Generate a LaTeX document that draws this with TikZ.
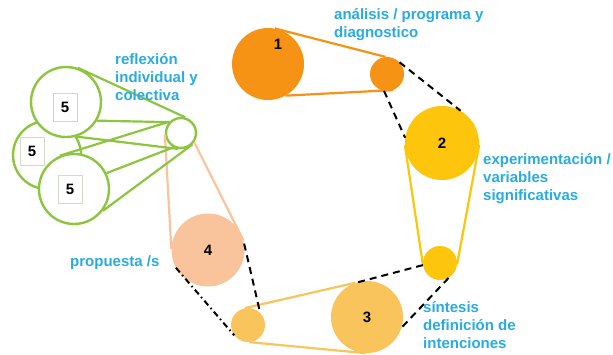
\documentclass[tikz,border=0pt]{standalone}
\usepackage{fontspec}
\newfontfamily\labfont{Liberation Sans}
\usepackage{tikz}
\definecolor{naranja}{RGB}{246,146,20}
\definecolor{amarillo}{RGB}{253,198,12}
\definecolor{melon}{RGB}{250,196,92}
\definecolor{durazno}{RGB}{249,196,156}
\definecolor{verde}{RGB}{140,198,63}
\definecolor{azul}{RGB}{41,171,226}
\definecolor{marco}{RGB}{205,220,195}

\begin{document}
\begin{tikzpicture}[x=1pt, y=-1pt,
        wheel/.style={circle, inner sep=0pt, minimum size=#1, font=\labfont\bfseries\fontsize{15}{18}\selectfont},
        ring/.style={wheel=#1, draw=verde, fill=white, line width=2.4pt},
        belt/.style={line width=2.2pt},
        gap/.style={line width=2pt, dash pattern=on 7pt off 5pt},
        lab/.style={anchor=base west, align=left, inner sep=0pt, text=azul, font=\labfont\bfseries\fontsize{15}{18}\selectfont},
        cinco/.style={draw=marco, fill=white, line width=0.7pt, minimum width=24pt, minimum height=28pt, inner sep=0pt, font=\labfont\bfseries\fontsize{15}{18}\selectfont}]
        \useasboundingbox (0,0) rectangle (613,354);

        \node[wheel=72pt, fill=naranja] (R1) at (268,64) {};
        \node[wheel=34pt, fill=naranja] (P1) at (387,74) {};
        \node[wheel=74pt, fill=amarillo] (R2) at (442,143) {2};
        \node[wheel=34pt, fill=amarillo] (P2) at (440,263) {};
        \node[wheel=72pt, fill=melon] (R3) at (367,317) {3};
        \node[wheel=34pt, fill=melon] (P3) at (248,325) {};
        \node[wheel=73pt, fill=durazno] (R4) at (208,250) {4};
        \node[font=\labfont\bfseries\fontsize{15}{18}\selectfont] (N1) at (278,44) {1};

        \draw[belt, naranja] (R1.79) -- (P1.95);
        \draw[belt, naranja] (R1.-61) -- (P1.-69);
        \draw[belt, amarillo] (R2.183) -- (P2.185);
        \draw[belt, amarillo] (R2.-3) -- (P2.-3);
        \draw[belt, melon] (P3.100) -- (R3.109);
        \draw[belt, melon] (P3.-85) -- (R3.-92);

        \draw[gap] (P1.43) -- (R2.60);
        \draw[gap] (P1.-100) -- (R2.172);
        \draw[gap] (P2.187) -- (R3.112);
        \draw[gap] (P2.-60) -- (R3.-17);
        \draw[gap] (R4.10) -- (P3.45);
        \draw[line width=2pt, dash pattern=on 6pt off 3.5pt on 1.5pt off 3.5pt] (R4.209) -- (P3.217);

        \node[ring=68pt] (G2) at (47,155) {};
        \node[ring=70pt] (G1) at (66,102) {};
        \node[ring=70pt] (G3) at (74,189) {};
        \node[ring=30pt] (GP) at (181,133) {};

        \draw[belt, durazno] (R4.178) -- (GP.185);
        \draw[belt, durazno] (R4.15) -- (GP.-35);

        \draw[belt, verde] (G1.71) -- (GP.75);
        \draw[belt, verde] (G1.-31) -- (GP.138);
        \draw[belt, verde] (G1.-73) -- (GP.-100);
        \draw[belt, verde] (G3.113) -- (GP.135);
        \draw[belt, verde] (G3.26) -- (GP.-118);
        \draw[belt, verde] (G3.-37) -- (GP.-45);

        \node[cinco] (C1) at (65,107) {5};
        \node[cinco] (C2) at (32,151) {5};
        \node[cinco] (C3) at (70,189) {5};

        \node[lab] (T1) at (334,37) {análisis / programa y\\diagnostico};
        \node[lab] (T2) at (115,100) {reflexión\\individual y\\colectiva};
        \node[lab] (T3) at (483,200) {experimentación /\\variables\\significativas};
        \node[lab] (T4) at (70,266) {propuesta /s};
        \node[lab] (T5) at (423,348) {síntesis\\definición de\\intenciones};
\end{tikzpicture}
\end{document}
